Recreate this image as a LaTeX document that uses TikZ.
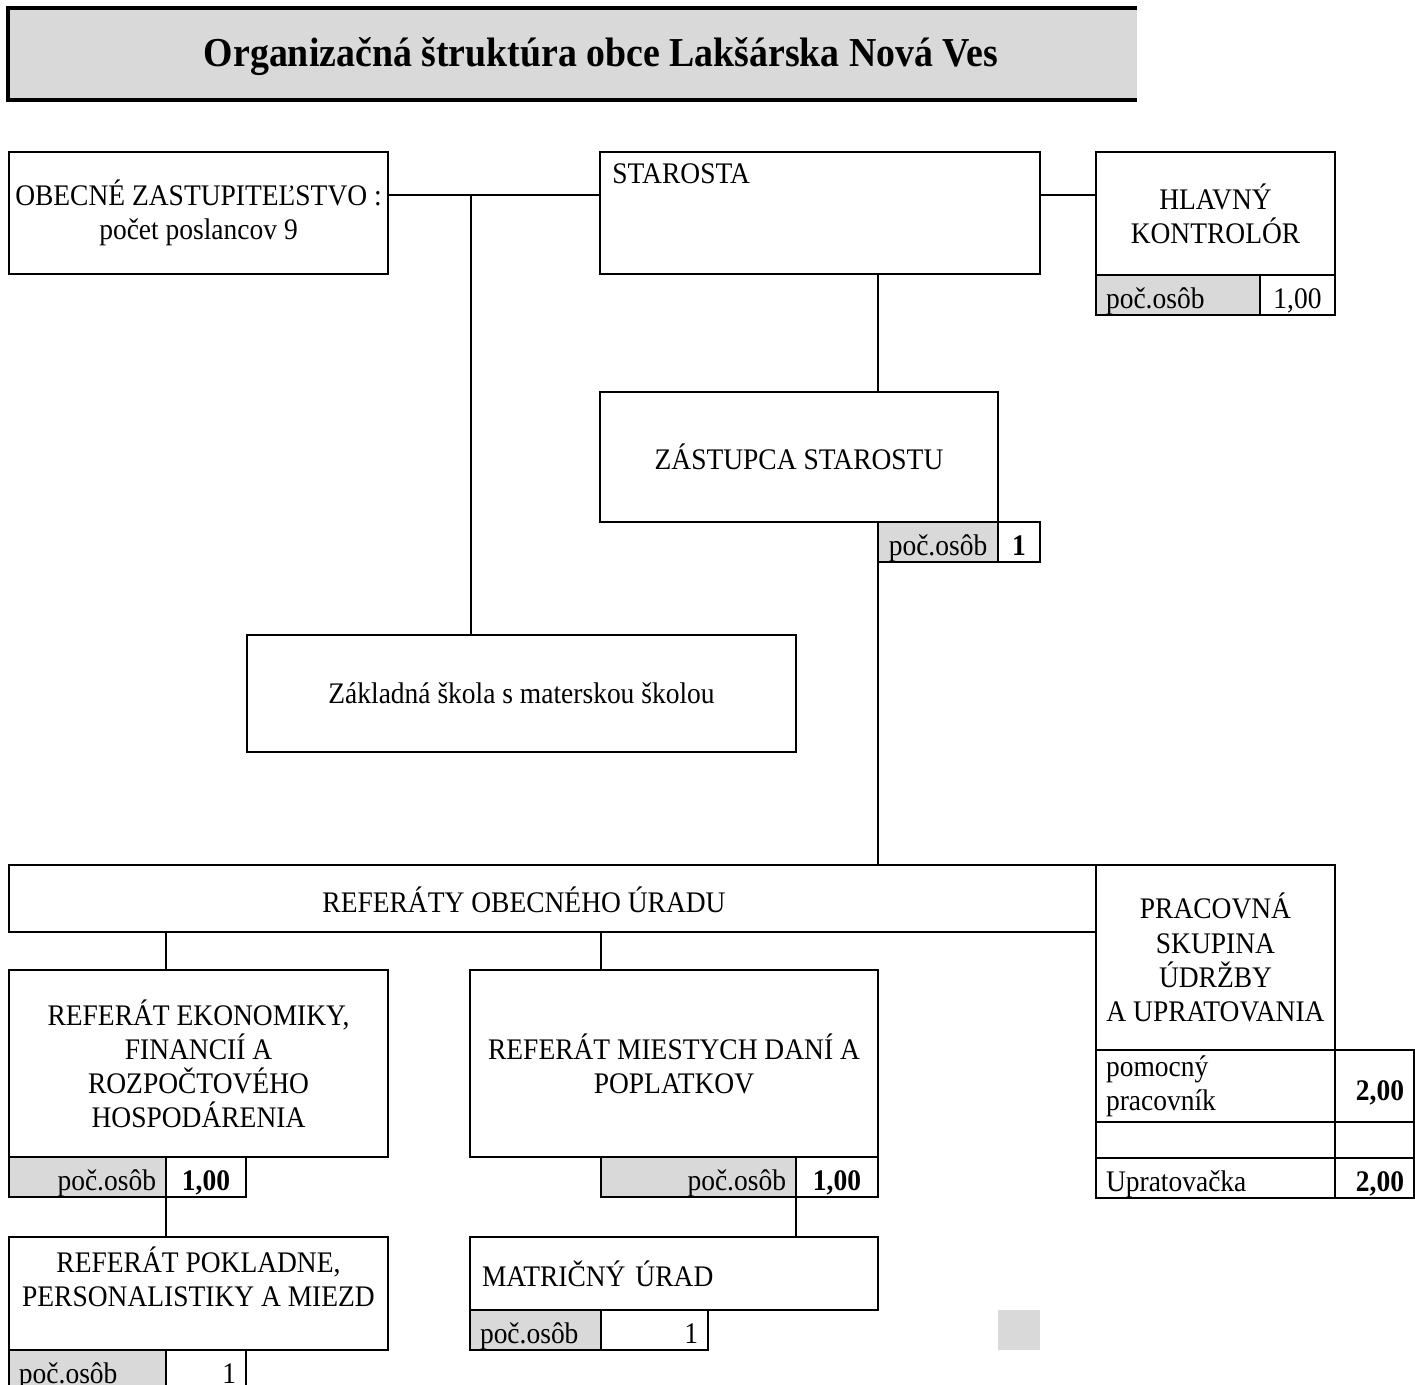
\documentclass[tikz,border=0pt]{standalone}
\usepackage{fontspec}
\setmainfont{Liberation Serif}[FakeStretch=0.92]
\usepackage{tikz}
\definecolor{sedA}{HTML}{D9D9D9}
\tikzstyle{box} = [rectangle, draw=black, line width=1.4pt, anchor=north west, inner sep=0pt, outer sep=0pt, align=center, font=\fontsize{17}{19.4}\selectfont]
\tikzstyle{cell} = [box, minimum height=0.8cm, inner xsep=0.2cm, text height=0.62cm, text depth=0.1cm]
\tikzstyle{gcell} = [cell, fill=sedA]
\tikzstyle{line} = [line width=1.4pt]
\usetikzlibrary{positioning}

\begin{document}
\begin{tikzpicture}
      \useasboundingbox (0,0) rectangle (28.3,-27.68);
      \node[fill=sedA, minimum width=22.58cm, minimum height=1.84cm, anchor=north west, inner sep=0pt, outer sep=0pt] (title) at (0.16,-0.16) {};
      \draw[line width=2.3pt] (title.north east) -- (title.north west) -- (title.south west) -- (title.south east);
      \node[font=\fontsize{23.4}{28}\selectfont\bfseries] (titletx) at (12.02,-1.14) {Organizačná štruktúra obce Lakšárska Nová Ves};

      \node[box, minimum width=7.58cm, minimum height=2.44cm] (obz) at (0.18,-3.04) {OBECNÉ ZASTUPITEĽSTVO :\\počet poslancov 9};
      \node[box, minimum width=8.8cm, minimum height=2.44cm] (star) at (12.0,-3.04) {};
      \node[anchor=north west, inner sep=0pt, font=\fontsize{17}{19.4}\selectfont] (startx) at ([xshift=0.24cm,yshift=-0.22cm]star.north west) {STAROSTA};

      \node[box, minimum width=4.78cm, minimum height=2.46cm] (kontr) at (21.92,-3.04) {HLAVNÝ\\KONTROLÓR};
      \node[gcell, minimum width=3.28cm, text width=2.88cm, align=left] (kpoc) at (kontr.south west) {poč.osôb};
      \node[cell, minimum width=1.5cm] (kval) at (kpoc.north east) {1,00};

      \node[box, minimum width=7.96cm, minimum height=2.6cm] (zast) at (12.0,-7.84) {ZÁSTUPCA STAROSTU};
      \node[gcell, minimum width=2.4cm] (zpoc) at (17.56,-10.44) {poč.osôb};
      \node[cell, minimum width=0.84cm] (zval) at (zpoc.north east) {\textbf{1}};

      \node[box, minimum width=10.98cm, minimum height=2.34cm] (zs) at (4.94,-12.7) {Základná škola s materskou školou};

      \node[box, minimum width=21.74cm, minimum height=1.34cm] (ref) at (0.18,-17.3) {};
      \node[font=\fontsize{17}{19.4}\selectfont] (reftx) at (10.48,-18.0) {REFERÁTY OBECNÉHO ÚRADU};

      \node[box, minimum width=4.78cm, minimum height=3.7cm] (prac) at (21.92,-17.3) {PRACOVNÁ\\SKUPINA\\ÚDRŽBY\\A UPRATOVANIA};
      \node[box, minimum width=4.78cm, minimum height=1.44cm, inner xsep=0.2cm, text width=4.38cm, align=left] (pomoc) at (prac.south west) {pomocný\\pracovník};
      \node[box, minimum width=1.58cm, minimum height=1.44cm, inner xsep=0.2cm, text width=1.18cm, align=right] (pomocv) at (pomoc.north east) {\mbox{}\\\textbf{2,00}};
      \node[cell, minimum width=4.78cm, minimum height=0.7cm] (emp) at (pomoc.south west) {};
      \node[cell, minimum width=1.58cm, minimum height=0.7cm] (empv) at (emp.north east) {};
      \node[cell, minimum width=4.78cm, text width=4.38cm, align=left] (upr) at (emp.south west) {Upratovačka};
      \node[cell, minimum width=1.58cm, text width=1.18cm, align=right] (uprv) at (upr.north east) {\textbf{2,00}};

      \node[box, minimum width=7.58cm, minimum height=3.74cm] (eko) at (0.18,-19.4) {REFERÁT EKONOMIKY,\\FINANCIÍ A\\ROZPOČTOVÉHO\\HOSPODÁRENIA};
      \node[gcell, minimum width=3.14cm, text width=2.74cm, align=right] (epoc) at (eko.south west) {poč.osôb};
      \node[cell, minimum width=1.6cm] (ekov) at (epoc.north east) {\textbf{1,00}};

      \node[box, minimum width=7.58cm, minimum height=2.26cm] (pokl) at (0.18,-24.74) {REFERÁT POKLADNE,\\PERSONALISTIKY A MIEZD\\\mbox{}};
      \node[gcell, minimum width=3.14cm, text width=2.74cm, align=left] (ppoc) at (pokl.south west) {poč.osôb};
      \node[cell, minimum width=1.6cm, text width=1.2cm, align=right] (pokv) at (ppoc.north east) {1};

      \node[box, minimum width=8.16cm, minimum height=3.74cm] (dan) at (9.4,-19.4) {REFERÁT MIESTYCH DANÍ A\\POPLATKOV};
      \node[gcell, minimum width=3.9cm, text width=3.5cm, align=right] (dpoc) at (12.02,-23.14) {poč.osôb};
      \node[cell, minimum width=1.64cm] (danv) at (dpoc.north east) {\textbf{1,00}};

      \node[box, minimum width=8.16cm, minimum height=1.46cm, inner xsep=0.24cm, text width=7.68cm, align=left] (matr) at (9.4,-24.74) {MATRIČNÝ ÚRAD};
      \node[gcell, minimum width=2.62cm, text width=2.22cm, align=left] (mpoc) at (matr.south west) {poč.osôb};
      \node[cell, minimum width=2.14cm, text width=1.74cm, align=right] (matv) at (mpoc.north east) {1};

      \node[fill=sedA, minimum width=0.84cm, minimum height=0.8cm, anchor=north west, inner sep=0pt] (blank) at (19.96,-26.2) {};

      \coordinate (jz) at (9.42,-3.9);
      \coordinate (vx) at (17.56,0);
      \draw[line] (obz.east |- jz) -- (star.west |- jz);
      \draw[line] (jz) -- (zs.north -| jz);
      \draw[line] (star.east |- jz) -- (kontr.west |- jz);
      \draw[line] (star.south -| vx) -- (zast.north -| vx);
      \draw[line] (zpoc.south west) -- (ref.north -| zpoc.south west);
      \draw[line] (ref.south -| epoc.east) -- (eko.north -| epoc.east);
      \draw[line] (ref.south -| dpoc.west) -- (dan.north -| dpoc.west);
      \draw[line] (epoc.south east) -- (pokl.north -| epoc.south east);
      \draw[line] (dpoc.south east) -- (matr.north -| dpoc.south east);
\end{tikzpicture}
\end{document}
